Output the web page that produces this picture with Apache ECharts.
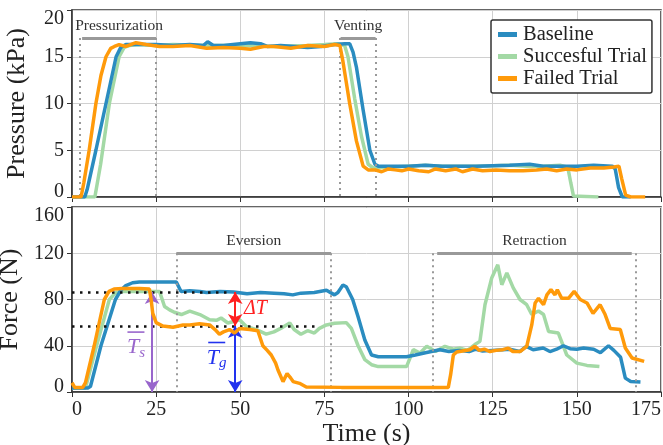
<!DOCTYPE html>
<html>
<head>
<meta charset="utf-8">
<script src="https://cdn.jsdelivr.net/npm/echarts@6/dist/echarts.min.js"></script>
<style>
  html, body { margin: 0; padding: 0; background: #fff; }
  #main { width: 663px; height: 445px; }
</style>
</head>
<body>
<div id="main"></div>
<script>
// 数据：[时间(s), 数值]
var xTicks = [0, 25, 50, 75, 100, 125, 150, 175];
var pressureTicks = [0, 5, 10, 15, 20];
var forceTicks = [0, 40, 80, 120, 160];
var seriesNames = ['Baseline', 'Succesful Trial', 'Failed Trial'];

var baselinePressure = [[0,0],[3.8,0],[4.5,0.8],[7.1,5],[10.1,10],[13.1,15],[14.5,16],[16,16.3],[20,16.3],[25,16.3],[30,16.2],[35,16.3],[39,16.2],[40.3,16.6],[42,16.2],[45,16.2],[50,16.4],[53,16.5],[56,16.4],[58,16.1],[62,16.2],[66,16.1],[70,16.0],[74,16.1],[78,16.3],[81,16.4],[82.5,16.4],[83.5,15.5],[84.5,13.9],[86.5,9.3],[88.5,5],[90,3.5],[91,3.3],[100,3.3],[105,3.4],[110,3.3],[120,3.3],[130,3.4],[136,3.5],[140,3.3],[150,3.3],[155,3.4],[160.5,3.3],[161.4,3.0],[162.4,1],[163.5,0],[166,0]];
var successPressure = [[0,0],[6.8,0],[8.5,3.5],[11.1,10],[14,15],[15.5,16],[17,16.2],[20,16.3],[25,16.2],[30,16.3],[40,16.2],[50,16.2],[60,16.1],[70,16.2],[75,16.3],[79,16.4],[81,16.2],[82,15],[84,10.5],[86,6.5],[88,3.5],[89.5,3.1],[95,3.2],[100,3.3],[105,3.4],[110,3.3],[120,3.3],[130,3.4],[135,3.3],[140,3.3],[145,3.4],[147.3,3.2],[148.2,1.5],[149,0.1],[156.4,0]];
var failedPressure = [[0,0],[2.7,0],[3.5,1.5],[5.1,5],[7.1,10],[8.6,13],[10.1,15],[11.5,15.9],[12.6,16.1],[14,16.3],[16,16.1],[19,16.5],[22,16.3],[26,16.1],[30,16.1],[35,16.2],[40,15.9],[45,16.0],[50,15.9],[53,15.8],[57,16.1],[60,16.1],[65,15.9],[70,16.2],[75,16.1],[78,16.3],[79.6,16.2],[80.5,14.5],[82.5,10],[84.5,6],[86.5,3.3],[88,2.9],[90,2.9],[92,2.7],[94,3.0],[96,2.9],[98,2.8],[100,3.0],[103,2.8],[106,2.7],[108,3.0],[111,2.8],[114,3.0],[116,2.7],[119,3.0],[122,2.8],[126,2.9],[130,2.8],[134,2.8],[138,2.9],[141,3.0],[144,2.8],[147,3.0],[150,2.9],[154,3.1],[158,3.1],[161,3.2],[162.5,3.3],[163.3,2],[164.5,0.2],[166,0],[170.3,0]];

var baselineForce = [[0,3.5],[4.8,3.5],[5.5,5],[8.6,40],[12.9,80],[14.5,88],[16,92],[18,94.5],[20,95.2],[25,95.2],[31,95.2],[32.4,87],[35,87.5],[38,87],[40,86],[44,87],[48,86.5],[52,85],[56,86],[60,85.5],[63,85],[65.6,84],[68,85.5],[72,86],[75.6,88],[78,84],[79,86],[80.5,92.5],[81.5,91],[83.4,80],[85,65],[87,45],[89,32],[91,30.5],[95,30.5],[99.4,30.5],[102,32],[105,34],[109.3,36.6],[112,35],[115,36],[118,35],[120,37],[122,35.5],[125,36],[128,36.5],[130,37],[133,35],[135,39.5],[137,36.5],[140,38],[142,35],[144,37],[146,40],[148,37.5],[150,37],[152,38],[155,37],[157,34],[159.4,40],[161,36],[163,30],[164.4,12],[166,9],[168.9,8.6]];
var successForce = [[0,3.5],[4,3.5],[4.5,5],[7.3,40],[11.1,80],[13,86],[15,87],[20,87],[26,87],[27.5,74],[29,71],[30.4,69],[32.5,67],[35,70],[38,67],[40.9,62.5],[42.9,62],[44.3,64],[46.3,59.7],[48,61],[49.8,62.5],[51.8,56.7],[54.8,54],[57.7,50],[60,52],[62,55],[64.7,59.7],[66,54],[68,50],[70,53],[72,51],[73.5,55],[75.6,58],[78,59.5],[81.5,60],[83,55],[85,40],[87,28],[89,23.6],[91,22],[95,22],[99.4,22],[100.5,30],[101.4,36.6],[103.4,33.7],[105.4,39.5],[106.3,38],[108,35],[110.8,39.5],[113.3,37],[115.3,38],[117.5,36],[119.7,41],[121.2,43.8],[122.7,75.5],[124.7,98.6],[126.5,110],[127.7,92.8],[129.2,103],[131.1,90],[133.1,80],[135.1,75.5],[136.6,67],[138.6,70],[140.1,67],[141.6,52.4],[144.5,51],[147,32],[150,25],[153,23],[156.7,22]];
var failedForce = [[0,8],[0.8,4],[3.2,4],[4,8],[6.6,40],[9.6,80],[11,87],[12.5,89],[15,89.5],[20,89.5],[23,89],[23.5,80],[24,68],[25,60],[27,57],[30,56],[33,58],[35,58],[37.9,59],[40.9,58],[42.5,54],[43.8,50],[45,52],[46.8,54],[48.3,51],[49.8,55],[52.8,54],[55.2,53],[56.7,40],[58,36],[59.2,32],[60.5,25],[61.2,19],[62.7,9],[63.9,16],[65,12],[65.7,9],[67.6,7.5],[69.6,4.3],[80,4],[100,4],[111.8,4],[112.5,15],[113.3,32],[114.3,34.6],[116,35.5],[118.2,36.6],[119.7,39.5],[121,36],[122.5,37],[124.2,35],[126,36],[128,36.6],[129.6,38],[131,35],[133.1,35],[135.1,39.5],[136.6,58],[137.6,77],[138.6,81],[140.1,75.5],[141.1,84],[142.3,88.5],[143.5,84],[144.2,88.5],[145.5,81],[147.5,81],[149.2,87],[151,80],[153,77],[154.8,68],[156.9,75.5],[158.4,67],[159.9,55],[162.9,54],[164.4,38],[166.4,29.4],[170,26.5]];

// 阶段标注
var phasesTop = [
    {name: 'Pressurization', start: 3, end: 25, lineStart: 2.2, lineEnd: 25, y: 17},
    {name: 'Venting', start: 79.8, end: 90.2, lineStart: 79.5, lineEnd: 90.2, y: 17}
];
var phasesBottom = [
    {name: 'Eversion', start: 31, end: 77, lineStart: 31, lineEnd: 77, y: 120},
    {name: 'Retraction', start: 108.5, end: 166.3, lineStart: 107.1, lineEnd: 167.4, y: 120}
];
var meanSuccess = 86.5, meanFailed = 57;
var arrowTs = 23.8, arrowTg = 48.5;

var colors = ['#2a8cc0', '#a3d9a5', '#ff9a0a'];
var serif = 'Liberation Serif';

function phaseLines(list) {
    var data = [];
    list.forEach(function (p) {
        data.push([{coord: [p.start, p.y], lineStyle: {color: '#999', width: 3, type: 'solid'},
            label: {show: true, formatter: p.name, position: 'middle', distance: 4, color: '#333', fontFamily: serif, fontSize: 15.5}},
            {coord: [p.end, p.y]}]);
        data.push([{coord: [p.lineStart, p.y]}, {coord: [p.lineStart, 0]}]);
        data.push([{coord: [p.lineEnd, p.y]}, {coord: [p.lineEnd, 0]}]);
    });
    return data;
}

function bar(color) {
    return {width: 17, height: 1.6, backgroundColor: color, lineHeight: 6};
}

// y轴首尾标签往里挪一点
function yLabel(ticks) {
    return {
        margin: 8, fontFamily: serif, fontSize: 20, color: '#222',
        formatter: function (v) {
            if (v === ticks[0]) return '{lo|' + v + '}';
            if (v === ticks[ticks.length - 1]) return '{hi|' + v + '}';
            return '{n|' + v + '}';
        },
        rich: {
            lo: {fontFamily: serif, fontSize: 20, color: '#222', padding: [0, 0, 11, 0]},
            hi: {fontFamily: serif, fontSize: 20, color: '#222', padding: [18, 0, 0, 0]},
            n: {fontFamily: serif, fontSize: 20, color: '#222'}
        }
    };
}

var myChart = echarts.init(document.getElementById('main'));

var option = {
    animation: false,
    grid: [
        {left: 72, right: 2, top: 10, height: 187, show: true, borderColor: '#333', borderWidth: 1.5, outerBoundsMode: 'none'},
        {left: 72, right: 2, top: 207, height: 185, show: true, borderColor: '#333', borderWidth: 1.5, outerBoundsMode: 'none'}
    ],
    legend: {
        data: seriesNames,
        orient: 'vertical',
        left: 491, top: 20,
        padding: [4, 5, 4, 7],
        itemGap: 1,
        itemWidth: 19, itemHeight: 5,
        icon: 'rect',
        borderColor: '#333', borderWidth: 1.5, borderRadius: 2,
        backgroundColor: '#fff',
        textStyle: {fontFamily: serif, fontSize: 20.5, color: '#222', padding: [0, 0, 0, 1]}
    },
    xAxis: [
        {type: 'value', gridIndex: 0, min: 0, max: 175, interval: 25,
            axisLine: {lineStyle: {color: '#333', width: 1.5}},
            axisTick: {show: true, length: 5, lineStyle: {color: '#333'}},
            axisLabel: {show: false},
            splitLine: {show: true, lineStyle: {color: '#d0d0d0', width: 1}}},
        {type: 'value', gridIndex: 1, min: 0, max: 175, interval: 25,
            name: 'Time (s)', nameLocation: 'middle', nameGap: 28,
            nameTextStyle: {fontFamily: serif, fontSize: 26, color: '#222'},
            axisLine: {lineStyle: {color: '#333', width: 1.5}},
            axisTick: {show: true, length: 5, lineStyle: {color: '#333'}},
            axisLabel: {margin: 8, alignMinLabel: 'left', alignMaxLabel: 'right', fontFamily: serif, fontSize: 20, color: '#222'},
            splitLine: {show: true, lineStyle: {color: '#d0d0d0', width: 1}}}
    ],
    yAxis: [
        {type: 'value', gridIndex: 0, min: 0, max: 20, interval: 5,
            name: 'Pressure (kPa)', nameLocation: 'middle', nameGap: 42,
            nameTextStyle: {fontFamily: serif, fontSize: 26, color: '#222'},
            axisLine: {show: true, lineStyle: {color: '#333', width: 1.5}},
            axisTick: {show: true, length: 5, lineStyle: {color: '#333'}},
            axisLabel: yLabel(pressureTicks),
            splitLine: {show: true, lineStyle: {color: '#d0d0d0', width: 1}}},
        {type: 'value', gridIndex: 1, min: 0, max: 160, interval: 40,
            name: 'Force (N)', nameLocation: 'middle', nameGap: 42,
            nameTextStyle: {fontFamily: serif, fontSize: 26, color: '#222'},
            axisLine: {show: true, lineStyle: {color: '#333', width: 1.5}},
            axisTick: {show: true, length: 5, lineStyle: {color: '#333'}},
            axisLabel: yLabel(forceTicks),
            splitLine: {show: true, lineStyle: {color: '#d0d0d0', width: 1}}}
    ],
    series: [
        // 标注 (上图)
        {type: 'line', xAxisIndex: 0, yAxisIndex: 0, data: [], silent: true,
            markLine: {silent: true, symbol: ['none', 'none'], animation: false,
                label: {show: false},
                lineStyle: {color: '#999', width: 2, type: [2, 4]},
                data: phaseLines(phasesTop)}},
        // 标注 (下图)
        {type: 'line', xAxisIndex: 1, yAxisIndex: 1, data: [], silent: true,
            markLine: {silent: true, symbol: ['none', 'none'], animation: false,
                label: {show: false},
                lineStyle: {color: '#999', width: 2, type: [2, 4]},
                data: phaseLines(phasesBottom).concat([
                    [{coord: [0, meanSuccess], lineStyle: {color: '#111', width: 2.5, type: [2.5, 5.5]}}, {coord: [47, meanSuccess]}],
                    [{coord: [0, meanFailed], lineStyle: {color: '#111', width: 2.5, type: [2.5, 5.5]}}, {coord: [73, meanFailed]}]
                ])},
            markPoint: {silent: true, symbol: 'circle', symbolSize: 0, animation: false,
                data: [
                    {coord: [19, 41], label: {show: true, formatter: '{b|}\n{t|T}{s|s}',
                        rich: {b: bar('#9966cc'), t: {fontFamily: serif, fontStyle: 'italic', fontSize: 22, color: '#9966cc'}, s: {fontFamily: serif, fontStyle: 'italic', fontSize: 15, color: '#9966cc', padding: [10, 0, 0, 0]}}}},
                    {coord: [43, 32], label: {show: true, formatter: '{b|}\n{t|T}{s|g}',
                        rich: {b: bar('#2233ee'), t: {fontFamily: serif, fontStyle: 'italic', fontSize: 22, color: '#2233ee'}, s: {fontFamily: serif, fontStyle: 'italic', fontSize: 15, color: '#2233ee', padding: [10, 0, 0, 0]}}}},
                    {coord: [54.5, 72], label: {show: true, formatter: 'ΔT', fontFamily: serif, fontStyle: 'italic', fontSize: 20, color: '#ff2020'}}
                ]}},
        // 箭头
        {type: 'line', xAxisIndex: 1, yAxisIndex: 1, data: [], silent: true,
            markLine: {silent: true, symbol: ['arrow', 'arrow'], symbolSize: [11, 12], animation: false,
                label: {show: false},
                data: [
                    [{coord: [arrowTs, 0], lineStyle: {color: '#9966cc', width: 2, type: 'solid'}}, {coord: [arrowTs, meanSuccess]}],
                    [{coord: [arrowTg, 0], lineStyle: {color: '#2233ee', width: 2, type: 'solid'}}, {coord: [arrowTg, meanFailed]}],
                    [{coord: [arrowTg, meanFailed], lineStyle: {color: '#ff2020', width: 2, type: 'solid'}}, {coord: [arrowTg, meanSuccess]}]
                ]}},
        {name: seriesNames[1], type: 'line', xAxisIndex: 0, yAxisIndex: 0, data: successPressure, z: 3, showSymbol: false, color: colors[1], lineStyle: {width: 3.5}},
        {name: seriesNames[0], type: 'line', xAxisIndex: 0, yAxisIndex: 0, data: baselinePressure, z: 4, showSymbol: false, color: colors[0], lineStyle: {width: 3.5}},
        {name: seriesNames[2], type: 'line', xAxisIndex: 0, yAxisIndex: 0, data: failedPressure, z: 5, showSymbol: false, color: colors[2], lineStyle: {width: 3.5}},
        {name: seriesNames[1], type: 'line', xAxisIndex: 1, yAxisIndex: 1, data: successForce, z: 3, showSymbol: false, color: colors[1], lineStyle: {width: 3.5}},
        {name: seriesNames[0], type: 'line', xAxisIndex: 1, yAxisIndex: 1, data: baselineForce, z: 4, showSymbol: false, color: colors[0], lineStyle: {width: 3.5}},
        {name: seriesNames[2], type: 'line', xAxisIndex: 1, yAxisIndex: 1, data: failedForce, z: 5, showSymbol: false, color: colors[2], lineStyle: {width: 3.5}}
    ]
};

myChart.setOption(option);
</script>
</body>
</html>
